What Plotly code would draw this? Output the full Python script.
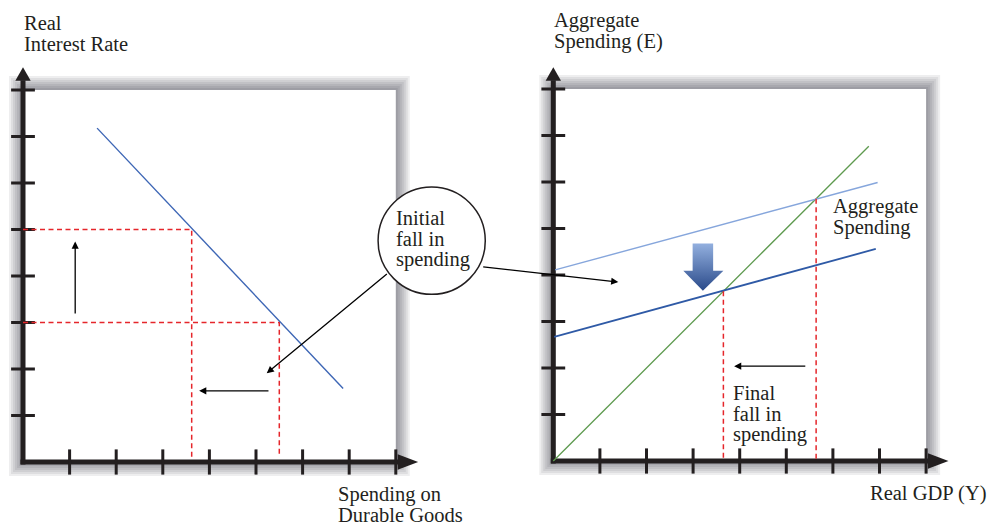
import plotly.graph_objects as go

# ---------------- data ----------------
tick_positions = [1, 2, 3, 4, 5, 6, 7, 8]

# Left panel: demand for durable goods
demand_x = [1.59, 6.87]
demand_y = [7.18, 1.58]
rate_levels = [5.0, 3.0]          # higher / original real interest rate
durables_levels = [3.62, 5.5]     # spending on durables at those rates

# Right panel: Keynesian cross
line45_x = [0.0, 6.77]
line45_y = [0.0, 6.77]
ae_high_x = [0.04, 6.96]
ae_high_y = [4.11, 5.99]
ae_low_x = [0.02, 6.92]
ae_low_y = [2.67, 4.56]
gdp_levels = [3.65, 5.64]         # new / original equilibrium output

# ---------------- geometry ----------------
PAGE_W, PAGE_H = 1001, 527
OFF = 8                            # browser body margin
W, H = PAGE_W - OFF, PAGE_H - OFF
FONT = "Liberation Serif, Times New Roman, serif"
AXC = "#231f20"
UX, UY = 46.6, 46.5
L_ORIG = (23.0 - OFF, 462.0 - OFF)
R_ORIG = (553.3 - OFF, 461.0 - OFF)
SPLIT = 500 - OFF

fig = go.Figure()


def add_line(x, y, color, width, axis, dash=None):
    xa, ya = axis
    fig.add_trace(go.Scatter(x=x, y=y, mode="lines", xaxis=xa, yaxis=ya,
                             line=dict(color=color, width=width, dash=dash),
                             hoverinfo="skip", showlegend=False))


def add_poly(x, y, color, axis):
    xa, ya = axis
    fig.add_trace(go.Scatter(x=x, y=y, mode="lines", fill="toself", fillcolor=color,
                             xaxis=xa, yaxis=ya, line=dict(width=0, color=color),
                             hoverinfo="skip", showlegend=False))


def panel_frame(axis, xref, yref, y_tip, x_tip):
    xa, ya = axis
    # drop shadow + white card
    for k in range(7, 0, -1):
        dx = k * 2.0 / UX
        dy = k * 2.0 / UY
        fig.add_shape(type="rect", xref=xref, yref=yref, layer="below",
                      x0=-dx, x1=8 + dx, y0=-dy, y1=8 + dy,
                      fillcolor="rgba(40,40,45,0.08)", line=dict(width=0))
    fig.add_shape(type="rect", xref=xref, yref=yref, layer="below",
                  x0=0, x1=8, y0=0, y1=8, fillcolor="white", line=dict(width=0))
    # axes
    add_line([0, 0], [-0.054, y_tip - 0.28], AXC, 5, axis)
    add_line([-0.054, x_tip - 0.43], [0, 0], AXC, 5, axis)
    add_poly([-0.165, 0.165, 0, -0.165], [y_tip - 0.29, y_tip - 0.29, y_tip, y_tip - 0.29], AXC, axis)
    add_poly([x_tip - 0.44, x_tip - 0.44, x_tip, x_tip - 0.44], [-0.165, 0.165, 0, -0.165], AXC, axis)
    # ticks
    fig.add_trace(go.Scatter(x=tick_positions, y=[0] * len(tick_positions), mode="markers",
                             xaxis=xa, yaxis=ya, cliponaxis=False,
                             marker=dict(symbol="line-ns", size=18, line=dict(width=3, color=AXC)),
                             hoverinfo="skip", showlegend=False))
    fig.add_trace(go.Scatter(x=[0] * len(tick_positions), y=tick_positions, mode="markers",
                             xaxis=xa, yaxis=ya, cliponaxis=False,
                             marker=dict(symbol="line-ew", size=17, line=dict(width=3, color=AXC)),
                             hoverinfo="skip", showlegend=False))


LEFT = ("x", "y")
RIGHT = ("x2", "y2")
RED = "#e5262b"
DASH = "5px,3.5px"

# ---------------- left panel ----------------
panel_frame(LEFT, "x", "y", 8.49, 8.48)
add_line([0, durables_levels[0], durables_levels[0]], [rate_levels[0], rate_levels[0], 0.08], RED, 1.5, LEFT, DASH)
add_line([0, durables_levels[1], durables_levels[1]], [rate_levels[1], rate_levels[1], 0.15], RED, 1.5, LEFT, DASH)
add_line(demand_x, demand_y, "#3d66b5", 1.4, LEFT)

# ---------------- right panel ----------------
panel_frame(RIGHT, "x2", "y2", 8.47, 8.48)
add_line(line45_x, line45_y, "#5e9a4f", 1.3, RIGHT)
add_line(ae_high_x, ae_high_y, "#86a6dc", 1.4, RIGHT)
add_line(ae_low_x, ae_low_y, "#2f5aa6", 1.8, RIGHT)
for g in gdp_levels:
    add_line([g, g], [g, 0.05], RED, 1.5, RIGHT, DASH)

# block arrow (shift of aggregate spending)
fig.add_trace(go.Scatter(
    x=[2.99, 3.43, 3.43, 3.65, 3.21, 2.79, 2.99, 2.99],
    y=[4.68, 4.68, 4.09, 4.09, 3.66, 4.09, 4.09, 4.68],
    mode="lines", fill="toself", xaxis="x2", yaxis="y2",
    fillgradient=dict(type="vertical", colorscale=[[0, "#2a4a8a"], [1, "#93b0df"]]),
    line=dict(width=0, color="rgba(0,0,0,0)"), hoverinfo="skip", showlegend=False))

# ---------------- circle callout ----------------
fig.add_shape(type="circle", xref="x", yref="y", x0=7.62, x1=9.92, y0=3.605, y1=5.915,
              fillcolor="white", line=dict(color=AXC, width=1.5))

annotations = []


def txt(text, x, y, xref, yref):
    annotations.append(dict(text=text, x=x, y=y, xref=xref, yref=yref, showarrow=False,
                            xanchor="left", yanchor="middle", borderpad=0,
                            font=dict(family=FONT, size=20.5, color=AXC)))


def arrow(x, y, ax, ay, xref, yref):
    annotations.append(dict(text="", x=x, y=y, ax=ax, ay=ay, xref=xref, yref=yref,
                            axref=xref, ayref=yref, showarrow=True, arrowhead=2,
                            arrowsize=1.1, arrowwidth=1.3, arrowcolor="black"))


# left texts
txt("Real", 0, 9.44, "x", "y")
txt("Interest Rate", 0, 8.99, "x", "y")
txt("Spending on", 6.74, -0.69, "x", "y")
txt("Durable Goods", 6.74, -1.13, "x", "y")
txt("Initial", 7.98, 5.25, "x", "y")
txt("fall in", 7.98, 4.80, "x", "y")
txt("spending", 7.98, 4.35, "x", "y")
# right texts
txt("Aggregate", 0, 9.48, "x2", "y2")
txt("Spending (E)", 0, 9.02, "x2", "y2")
txt("Aggregate", 5.98, 5.48, "x2", "y2")
txt("Spending", 5.98, 5.03, "x2", "y2")
txt("Final", 3.83, 1.47, "x2", "y2")
txt("fall in", 3.83, 1.02, "x2", "y2")
txt("spending", 3.83, 0.57, "x2", "y2")
txt("Real GDP (Y)", 6.77, -0.69, "x2", "y2")

# arrows
arrow(1.12, 4.74, 1.12, 3.16, "x", "y")
arrow(3.78, 1.53, 5.3, 1.53, "x", "y")
arrow(5.23, 1.91, 7.84, 4.07, "x", "y")
arrow(3.88, 2.04, 5.44, 2.04, "x2", "y2")
annotations.append(dict(text="", x=(618.3 - OFF) / W, y=1 - (282.0 - OFF) / H,
                        xref="paper", yref="paper",
                        ax=481.7 - 618.3, ay=266.7 - 282.0, axref="pixel", ayref="pixel",
                        showarrow=True, arrowhead=2, arrowsize=1.1, arrowwidth=1.3,
                        arrowcolor="black"))


def axis_range(orig, lo_px, hi_px, unit, flip=False):
    if flip:
        return [(orig - hi_px) / unit, (orig - lo_px) / unit]
    return [(lo_px - orig) / unit, (hi_px - orig) / unit]


common = dict(visible=False, fixedrange=True)
fig.update_layout(
    width=W, height=H, margin=dict(l=0, r=0, t=0, b=0),
    paper_bgcolor="white", plot_bgcolor="rgba(0,0,0,0)",
    showlegend=False, annotations=annotations,
    xaxis=dict(domain=[0, SPLIT / W], range=axis_range(L_ORIG[0], 0, SPLIT, UX), **common),
    yaxis=dict(domain=[0, 1], range=axis_range(L_ORIG[1], 0, H, UY, flip=True), **common),
    xaxis2=dict(domain=[SPLIT / W, 1], range=axis_range(R_ORIG[0], SPLIT, W, UX), anchor="y2", **common),
    yaxis2=dict(domain=[0, 1], range=axis_range(R_ORIG[1], 0, H, UY, flip=True), anchor="x2", **common),
)

fig.write_html("out.html")
